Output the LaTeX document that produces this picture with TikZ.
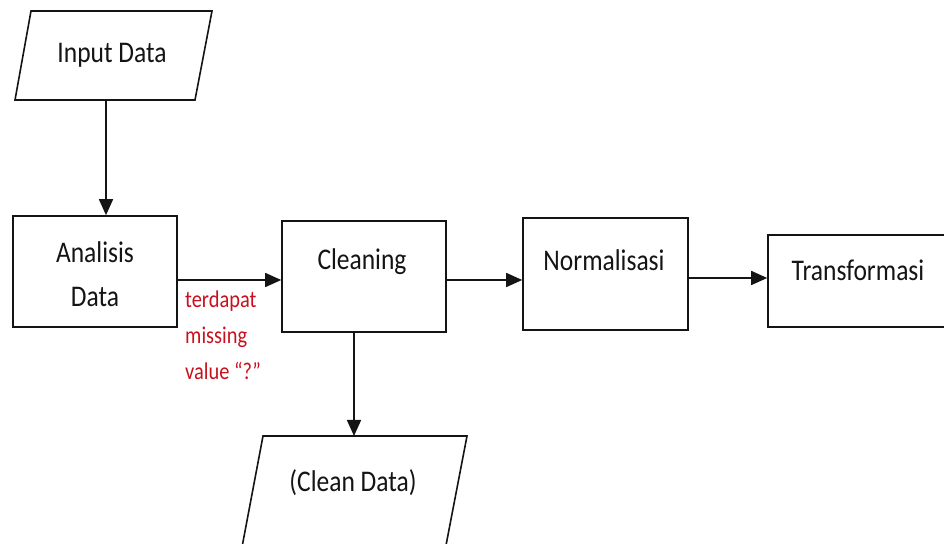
\documentclass[tikz,border=0pt]{standalone}
\usepackage{fontspec}
\setmainfont{Carlito}[FakeStretch=0.85]
\usetikzlibrary{arrows.meta}
\definecolor{lbl}{RGB}{200,16,30}
\definecolor{ink}{RGB}{20,20,20}
\tikzset{
  x=1pt,y=1pt,
  box/.style={draw=ink,line width=1.6pt,rectangle,inner sep=0pt},
  paraline/.style={draw=ink,line width=1.6pt,line join=miter},
  txt/.style={font=\fontsize{30}{44}\selectfont,text=ink,align=center,inner sep=0pt},
  redtxt/.style={font=\fontsize{24}{36}\selectfont,text=lbl,align=left,inner sep=0pt},
  arr/.style={draw=ink,line width=1.6pt,-{Triangle[length=16pt,width=14pt]}}
}
\begin{document}
\begin{tikzpicture}
\useasboundingbox (0,0) rectangle (944,543);
% Input Data parallelogram
\draw[paraline] (31,532) -- (212,532) -- (195,443) -- (15,443) -- cycle;
\coordinate (inB) at (106,443);
\node[txt] (inputT) at (112,487.5) {Input Data};
\node[box,minimum width=164pt,minimum height=111pt] (ana) at (95,271.5) {};
\node[txt] (anaT) at (95,269) {Analisis\\Data};
\node[box,minimum width=164pt,minimum height=111pt] (cle) at (364,266.5) {};
\node[txt] (cleT) at (362,281) {Cleaning};
\node[box,minimum width=165pt,minimum height=112pt] (nor) at (605.5,269) {};
\node[txt] (norT) at (604,283) {Normalisasi};
\node[box,minimum width=190pt,minimum height=92pt] (tra) at (863,262) {};
\node[txt] (traT) at (858,273) {Transformasi};
% Clean Data parallelogram
\draw[paraline] (263,107) -- (467,107) -- (442.6,-20) -- (239,-20) -- cycle;
\coordinate (cleanTop) at (354,107);
\node[txt] (cleanT) at (353,60) {(Clean Data)};
\node[redtxt,anchor=north west] (miss) at (185,252) {terdapat\\missing\\value “?”};
\draw[arr] (inB) -- (inB |- ana.north);
\draw[arr] ([yshift=-8.5pt]ana.east) -- ([yshift=-8.5pt]ana.east -| cle.west);
\draw[arr] ([yshift=-3.5pt]cle.east) -- ([yshift=-3.5pt]cle.east -| nor.west);
\draw[arr] ([yshift=-4pt]nor.east) -- ([yshift=-4pt]nor.east -| tra.west);
\draw[arr] (cle.south -| cleanTop) -- (cleanTop);
\end{tikzpicture}
\end{document}
